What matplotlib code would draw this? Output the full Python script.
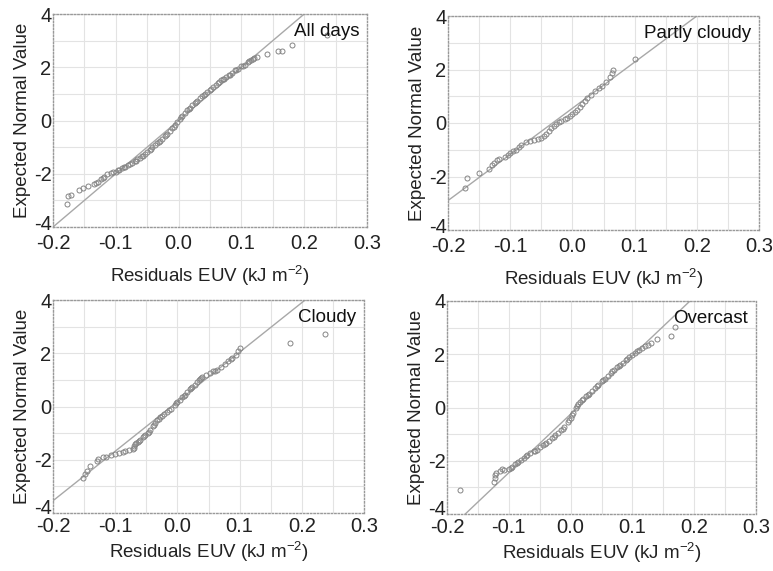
import numpy as np
import matplotlib
matplotlib.use('Agg')
import matplotlib.pyplot as plt
import matplotlib.transforms as mtransforms
from matplotlib.ticker import MultipleLocator

plt.rcParams['font.family'] = ['Liberation Sans', 'DejaVu Sans']
plt.rcParams['mathtext.fontset'] = 'custom'
plt.rcParams['mathtext.rm'] = 'Liberation Sans'
plt.rcParams['mathtext.it'] = 'Liberation Sans'

#residuals and expected normal values for each sky condition
all_res = [-0.178, -0.176, -0.172, -0.158, -0.152, -0.145, -0.135, -0.128, -0.124, -0.118,
           -0.114, -0.105, -0.100, -0.095, -0.090, -0.085, -0.080, -0.075, -0.070, -0.066,
           -0.062, -0.058, -0.054, -0.050, -0.046, -0.042, -0.038, -0.034, -0.030, -0.026,
           -0.022, -0.018, -0.014, -0.010, -0.006, -0.002, 0.002, 0.006, 0.010, 0.014,
           0.018, 0.022, 0.026, 0.030, 0.034, 0.038, 0.042, 0.046, 0.050, 0.055,
           0.060, 0.065, 0.070, 0.075, 0.080, 0.085, 0.090, 0.095, 0.100, 0.105,
           0.110, 0.115, 0.120, 0.125, 0.140, 0.158, 0.165, 0.180, 0.236,
           -0.131, -0.121, -0.108, -0.097, -0.087, -0.077, -0.068, -0.056, -0.044, -0.032,
           -0.020, -0.008, 0.004, 0.016, 0.028, 0.040, 0.052, 0.062, 0.067, 0.072,
           0.082, 0.092, 0.102, 0.112, 0.118]
all_env = [-3.15, -2.85, -2.78, -2.62, -2.55, -2.45, -2.38, -2.30, -2.20, -2.12,
           -2.02, -1.95, -1.92, -1.86, -1.80, -1.75, -1.68, -1.60, -1.53, -1.46,
           -1.40, -1.33, -1.26, -1.18, -1.10, -1.00, -0.92, -0.85, -0.76, -0.68,
           -0.60, -0.50, -0.40, -0.30, -0.18, -0.05, 0.07, 0.18, 0.28, 0.38,
           0.48, 0.57, 0.66, 0.75, 0.85, 0.93, 1.00, 1.08, 1.15, 1.24,
           1.33, 1.45, 1.55, 1.62, 1.70, 1.80, 1.88, 1.95, 2.03, 2.10,
           2.20, 2.27, 2.33, 2.40, 2.50, 2.60, 2.62, 2.85, 3.20,
           -2.36, -2.16, -1.96, -1.85, -1.74, -1.62, -1.52, -1.32, -1.06, -0.82,
           -0.56, -0.26, 0.12, 0.42, 0.70, 0.96, 1.18, 1.40, 1.52, 1.56,
           1.72, 1.90, 2.06, 2.22, 2.32]

partly_res = [-0.173, -0.170, -0.150, -0.134, -0.130, -0.126, -0.122, -0.118, -0.108, -0.104,
              -0.100, -0.095, -0.090, -0.086, -0.082, -0.075, -0.068, -0.062, -0.056, -0.050,
              -0.046, -0.042, -0.038, -0.034, -0.030, -0.026, -0.022, -0.018, -0.012, -0.008,
              -0.004, 0.000, 0.004, 0.008, 0.012, 0.016, 0.020, 0.024, 0.030, 0.036,
              0.042, 0.048, 0.054, 0.060, 0.064, 0.066, 0.100]
partly_env = [-2.44, -2.07, -1.88, -1.72, -1.58, -1.48, -1.38, -1.36, -1.28, -1.20,
              -1.12, -1.06, -1.00, -0.90, -0.82, -0.72, -0.66, -0.62, -0.58, -0.55,
              -0.48, -0.40, -0.30, -0.20, -0.12, -0.04, 0.02, 0.08, 0.14, 0.20,
              0.28, 0.35, 0.42, 0.50, 0.60, 0.72, 0.84, 0.95, 1.05, 1.18,
              1.30, 1.40, 1.55, 1.72, 1.88, 1.98, 2.38]

cloudy_res = [-0.152, -0.148, -0.145, -0.140, -0.130, -0.128, -0.120, -0.114, -0.106, -0.100,
              -0.094, -0.088, -0.084, -0.078, -0.072, -0.070, -0.068, -0.064, -0.060, -0.056,
              -0.052, -0.048, -0.044, -0.040, -0.036, -0.032, -0.028, -0.022, -0.016, -0.010,
              -0.004, 0.000, 0.004, 0.008, 0.012, 0.016, 0.020, 0.024, 0.028, 0.032,
              0.036, 0.040, 0.046, 0.052, 0.058, 0.064, 0.070, 0.076, 0.082, 0.088,
              0.094, 0.098, 0.100, 0.181, 0.237,
              -0.069, -0.066, -0.062, -0.054, -0.046, -0.038, -0.030, -0.025, -0.013, -0.002,
              0.010, 0.022, 0.034, 0.038, 0.061, 0.086]
cloudy_env = [-2.69, -2.55, -2.44, -2.25, -2.05, -1.98, -1.90, -1.88, -1.84, -1.80,
              -1.76, -1.72, -1.68, -1.62, -1.58, -1.50, -1.42, -1.32, -1.25, -1.16,
              -1.08, -1.00, -0.90, -0.75, -0.62, -0.50, -0.40, -0.30, -0.20, -0.08,
              0.06, 0.18, 0.26, 0.34, 0.44, 0.55, 0.64, 0.72, 0.82, 0.92,
              1.02, 1.12, 1.20, 1.26, 1.32, 1.38, 1.48, 1.58, 1.70, 1.82,
              1.95, 2.10, 2.20, 2.38, 2.71,
              -1.55, -1.38, -1.28, -1.12, -0.96, -0.70, -0.46, -0.36, -0.14, 0.12,
              0.40, 0.68, 0.98, 1.08, 1.35, 1.78]

overcast_res = [-0.179, -0.124, -0.123, -0.122, -0.120, -0.114, -0.108, -0.100, -0.095, -0.090,
                -0.085, -0.080, -0.075, -0.070, -0.065, -0.060, -0.055, -0.050, -0.045, -0.040,
                -0.035, -0.030, -0.025, -0.020, -0.015, -0.010, -0.005, 0.000, 0.004, 0.008,
                0.012, 0.016, 0.020, 0.025, 0.030, 0.035, 0.040, 0.045, 0.050, 0.055,
                0.060, 0.065, 0.070, 0.075, 0.080, 0.085, 0.090, 0.095, 0.100, 0.105,
                0.110, 0.115, 0.120, 0.130, 0.140, 0.163, 0.169,
                -0.111, -0.097, -0.087, -0.072, -0.058, -0.042, -0.027, -0.012, -0.002, 0.002,
                0.010, 0.018, 0.028, 0.042, 0.052, 0.067, 0.078, 0.092, 0.108, 0.125]
overcast_env = [-3.09, -2.78, -2.65, -2.55, -2.46, -2.40, -2.36, -2.30, -2.22, -2.12,
                -2.04, -1.96, -1.88, -1.80, -1.72, -1.65, -1.58, -1.50, -1.42, -1.33,
                -1.24, -1.15, -1.04, -0.94, -0.84, -0.72, -0.55, -0.38, -0.20, 0.00,
                0.12, 0.22, 0.32, 0.42, 0.52, 0.62, 0.72, 0.85, 0.98, 1.08,
                1.18, 1.30, 1.42, 1.52, 1.60, 1.68, 1.78, 1.88, 1.96, 2.06,
                2.16, 2.24, 2.30, 2.42, 2.56, 2.70, 3.04,
                -2.32, -2.26, -2.08, -1.84, -1.62, -1.38, -1.10, -0.80, -0.48, -0.28,
                0.06, 0.28, 0.46, 0.80, 1.02, 1.36, 1.56, 1.82, 2.12, 2.36]

titles = ['All days', 'Partly cloudy', 'Cloudy', 'Overcast']
#slope and intercept of the reference normal line in each panel
fit_slope = [20.0, 17.25, 18.6, 22.0]
fit_icpt = [0.0, 0.55, 0.18, -0.25]

residuals = [all_res, partly_res, cloudy_res, overcast_res]
expected = [all_env, partly_env, cloudy_env, overcast_env]

W, H = 773, 571
boxes = [(53, 14, 367, 227), (448, 16, 759, 230),
         (53, 300, 364, 513), (447, 301, 756, 514)]
xlabel_pads = [8, 8, 3, 3]
xtick_pads = [5, 5, 3, 3]
low_label_lift = [3, 3, 5, 5]

fig = plt.figure(figsize=(W / 100, H / 100), dpi=100)

for i in range(4):
    l, t, r, b = boxes[i]
    ax = fig.add_axes([l / W, 1 - b / H, (r - l) / W, (b - t) / H])
    ax.set_xlim(-0.2, 0.3)
    ax.set_ylim(-4, 4)
    ax.xaxis.set_major_locator(MultipleLocator(0.1))
    ax.xaxis.set_minor_locator(MultipleLocator(0.05))
    ax.yaxis.set_major_locator(MultipleLocator(2))
    ax.yaxis.set_minor_locator(MultipleLocator(1))
    ax.grid(which='both', color='#e3e3e3', linewidth=0.8)
    ax.set_axisbelow(True)
    ax.xaxis.set_major_formatter(plt.FuncFormatter(lambda v, p: '%.1f' % v))
    ax.yaxis.set_major_formatter(plt.FuncFormatter(lambda v, p: '%d' % round(v)))
    ax.tick_params(which='both', length=0, labelsize=14.5, colors='#222222')
    ax.tick_params(axis='x', pad=xtick_pads[i])
    ax.tick_params(axis='y', pad=1)
    for s in ax.spines.values():
        s.set_color('#999999')
        s.set_linestyle((0, (1, 1.5)))
        s.set_linewidth(1.0)

    xs = np.array([-0.2, 0.3])
    ax.plot(xs, fit_slope[i] * xs + fit_icpt[i], color='#a8a8a8', linewidth=1.0)
    ax.plot(residuals[i], expected[i], 'o', markersize=3.6, markerfacecolor='none',
            markeredgecolor='#858585', markeredgewidth=0.7)

    ax.text(0.975, 0.96, titles[i], transform=ax.transAxes, ha='right', va='top',
            fontsize=13.5, color='#111111', zorder=5)
    ax.set_xlabel('Residuals EUV (kJ m$^{-2}$)', fontsize=13.5, color='#222222',
                  labelpad=xlabel_pads[i])
    ax.set_ylabel('Expected Normal Value', fontsize=13.5, color='#222222', labelpad=2)

    # lift the bottom y label a little so it clears the first x label
    fig.canvas.draw()
    for lab in ax.get_yticklabels():
        if lab.get_text() == '-4':
            lab.set_transform(lab.get_transform() +
                              mtransforms.ScaledTranslation(0, low_label_lift[i] / 72,
                                                            fig.dpi_scale_trans))

plt.savefig('out.png', dpi=100)
